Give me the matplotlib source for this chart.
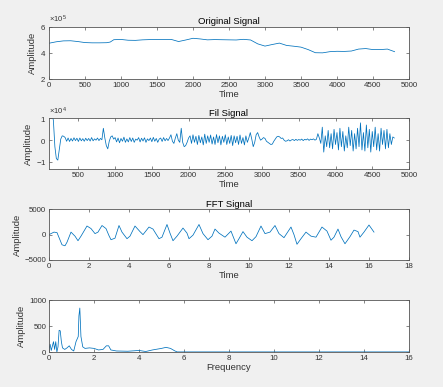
import numpy as np
import matplotlib
matplotlib.use('Agg')
import matplotlib.pyplot as plt

# original signal (time in samples, amplitude)
orig_t = [0, 100, 200, 300, 400, 500, 600, 700, 800, 850, 900, 1000, 1100, 1200, 1300,
          1400, 1500, 1600, 1700, 1800, 1900, 2000, 2100, 2200, 2300, 2400, 2500, 2600,
          2700, 2800, 2900, 3000, 3100, 3200, 3300, 3400, 3500, 3600, 3700, 3800, 3900,
          4000, 4100, 4200, 4300, 4400, 4500, 4600, 4700, 4800]
orig_v = [4.75, 4.86, 4.93, 4.94, 4.88, 4.80, 4.78, 4.78, 4.79, 4.84, 5.02, 5.04, 4.98,
          4.97, 5.01, 5.03, 5.04, 5.04, 5.04, 4.88, 5.00, 5.13, 5.08, 5.01, 5.03, 5.02,
          5.01, 5.00, 5.05, 5.00, 4.70, 4.53, 4.65, 4.76, 4.58, 4.52, 4.45, 4.26, 4.02,
          4.01, 4.10, 4.13, 4.12, 4.15, 4.30, 4.34, 4.26, 4.26, 4.30, 4.10]

# filtered signal, one value every 20 samples from t=140 (x 1e4)
fil_start = 140
fil_v = [1.3, 0.9, -0.3, -0.85, -0.92, -0.45, 0.05, 0.2, 0.18,
         0.12, -0.05, 0.1, -0.06, 0.08, -0.04, 0.11, -0.02, 0.09, -0.06, 0.1, -0.03, 0.07,
         -0.05, 0.09, -0.02, 0.08, -0.04, 0.12, -0.03, 0.06, 0.0, 0.1, -0.02, 0.08, 0.02,
         0.55, 0.1, -0.25, -0.4, -0.05, 0.15, 0.2, 0.05,
         0.12, -0.08, 0.1, -0.12, 0.08, -0.05, 0.14, -0.1, 0.06, -0.08, 0.12, -0.06, 0.1,
         -0.1, 0.05, 0.0, 0.12, -0.08, 0.09, -0.04, 0.11, -0.1, 0.06, -0.02, 0.1, -0.07,
         0.13, -0.05, 0.08, -0.1, 0.05, 0.1, -0.06, 0.12, -0.03, 0.08, -0.02, 0.1,
         0.25, -0.05, -0.15, 0.1, 0.3, 0.0, -0.1, 0.55, -0.1, -0.3, -0.25, -0.1, 0.1,
         0.2, -0.15, 0.25, -0.1, 0.18, -0.2, 0.22, -0.12, 0.15, -0.22, 0.28, -0.15, 0.2,
         -0.1, 0.24, -0.18, 0.15, -0.2, 0.26, -0.12, 0.2, -0.22, 0.18, -0.1, 0.25, -0.2,
         0.15, -0.15, 0.22, -0.25, 0.2, -0.12, 0.18, -0.2, 0.24, -0.15, 0.12, -0.22, 0.2,
         -0.1,
         0.1, 0.35, 0.05, -0.3, -0.1, 0.25, 0.35, 0.15, 0.0, 0.05, 0.12, 0.08, -0.05,
         -0.1, -0.15, -0.2, -0.18, -0.05, 0.05, 0.15, 0.18, 0.15, 0.08, 0.1, 0.0, -0.05,
         -0.03, 0.02, -0.04, 0.01, 0.03, -0.02, 0.04, -0.01, 0.03, 0.0, 0.05, -0.02, 0.04,
         0.01, 0.06, -0.01, 0.05, 0.02, 0.06, 0.0, 0.04,
         0.3, 0.1, -0.15, 0.6, -0.55, 0.2, -0.3,
         0.45, -0.35, 0.3, -0.4, 0.5, -0.2, 0.35, -0.45, 0.55, -0.3,
         0.4, -0.5, 0.2, -0.35, 0.6, -0.25, 0.45, -0.5, 0.3, -0.4,
         0.55, -0.3, 0.8, -0.45, 0.35, -0.5, 0.7, -0.35, 0.5, -0.55,
         0.4, -0.3, 0.6, -0.45, 0.3, -0.5, 0.55, -0.2, 0.45, -0.4,
         0.5, -0.35, 0.3, -0.2, 0.15, 0.1]

# "FFT signal" vs time
fft_t = [0, 0.25, 0.4, 0.65, 0.8, 0.9, 1.1, 1.3, 1.45, 1.6, 1.9, 2.1, 2.3, 2.45, 2.65,
         2.85, 3.0, 3.1, 3.3, 3.5, 3.65, 3.9, 4.05, 4.3, 4.55, 4.7, 5.0, 5.2, 5.5, 5.65,
         5.9, 6.05, 6.2, 6.4, 6.7, 6.9, 7.0, 7.2, 7.5, 7.7, 7.95, 8.15, 8.3, 8.5, 8.8,
         9.1, 9.35, 9.5, 9.7, 9.9, 10.15, 10.35, 10.6, 10.8, 11.05, 11.3, 11.5, 11.75,
         12.1, 12.25, 12.4, 12.6, 12.85, 13.1, 13.35, 13.65, 13.9, 14.1, 14.25, 14.45,
         14.6, 14.8, 15.05, 15.25, 15.45, 15.55, 15.75, 16.0, 16.25]
fft_v = [0, 500, 400, -2000, -2200, -1500, 500, -300, -1200, -300, 1700, 1200, 200, 500,
         1800, 1200, -200, -1000, -700, 1800, 500, -800, -300, 1700, 600, 0, 1500, 1100,
         -800, -500, 2000, 300, -1200, -300, 1300, 300, -800, -100, 2000, 200, -1000,
         -300, 1100, 300, -500, 700, -1800, -800, 600, -500, -1200, -400, 1700, 200, 500,
         1800, 200, -600, 1500, 0, -1900, -800, 500, -300, -500, 1500, 700, -1100, -500,
         1100, -400, -1800, -400, 900, 600, -500, 500, 1900, 500]

# spectrum
freq = [0, 0.05, 0.1, 0.2, 0.25, 0.3, 0.35, 0.4, 0.45, 0.5, 0.55, 0.6, 0.7, 0.8, 0.9,
        1.0, 1.1, 1.2, 1.3, 1.33, 1.37, 1.42, 1.5, 1.6, 1.8, 2.0, 2.2, 2.4, 2.55, 2.65,
        2.75, 3.0, 3.5, 4.0, 4.3, 4.6, 5.0, 5.2, 5.4, 5.6, 5.7, 16]
spec = [50, 150, 30, 200, 50, 200, 0, 100, 420, 410, 200, 80, 50, 80, 120, 50, 20, 200,
        300, 700, 850, 300, 100, 70, 80, 70, 40, 50, 120, 120, 40, 20, 15, 30, 10, 40, 70,
        90, 70, 20, 2, 2]

plt.rcParams['font.family'] = ['Liberation Sans', 'DejaVu Sans']
plt.rcParams['mathtext.fontset'] = 'custom'
plt.rcParams['mathtext.rm'] = 'Liberation Sans'
grey = '#333333'
blue = '#0072BD'

fig = plt.figure(figsize=(4.43, 3.87), dpi=100, facecolor='#f0f0f0')
L, W = 0.1106, 0.8126
ax1 = fig.add_axes([L, 0.7959, W, 0.1344])
ax2 = fig.add_axes([L, 0.5633, W, 0.1305])
ax3 = fig.add_axes([L, 0.3282, W, 0.1310])
ax4 = fig.add_axes([L, 0.0904, W, 0.1336])

ax1.plot(orig_t, np.array(orig_v) * 1e5, color=blue, lw=0.55)
ax1.set_xlim(0, 5000)
ax1.set_ylim(2e5, 6e5)
ax1.set_xticks(range(0, 5001, 500))
ax1.set_yticks([2e5, 4e5, 6e5])
ax1.set_title('Original Signal')
ax1.set_xlabel('Time')

fil_t = fil_start + 20 * np.arange(len(fil_v))
ax2.plot(fil_t, np.array(fil_v) * 1e4, color=blue, lw=0.55)
ax2.set_xlim(100, 5000)
ax2.set_ylim(-1.33e4, 1e4)
ax2.set_xticks(range(500, 5001, 500))
ax2.set_yticks([-1e4, 0, 1e4])
ax2.set_title('Fil Signal')
ax2.set_xlabel('Time')

ax3.plot(fft_t, fft_v, color=blue, lw=0.55)
ax3.set_xlim(0, 18)
ax3.set_ylim(-5000, 5000)
ax3.set_xticks(range(0, 19, 2))
ax3.set_yticks([-5000, 0, 5000])
ax3.set_title('FFT Signal')
ax3.set_xlabel('Time')

ax4.plot(freq, spec, color=blue, lw=0.55)
ax4.set_xlim(0, 16)
ax4.set_ylim(0, 1000)
ax4.set_xticks(range(0, 17, 2))
ax4.set_yticks([0, 500, 1000])
ax4.set_xlabel('Frequency')

for ax in (ax1, ax2):
    ax.ticklabel_format(axis='y', style='sci', scilimits=(0, 0), useMathText=True)
    ax.yaxis.get_offset_text().set_fontsize(5.5)
    ax.yaxis.get_offset_text().set_color('#555555')

for ax in (ax1, ax2, ax3, ax4):
    ax.set_ylabel('Amplitude', fontsize=6.8, color=grey, labelpad=2)
    ax.xaxis.label.set_fontsize(6.8)
    ax.xaxis.label.set_color(grey)
    ax.xaxis.labelpad = 1
    ax.tick_params(direction='in', length=2.5, width=0.5, labelsize=5.7,
                   colors='#555555', labelcolor=grey, top=True, right=True, pad=2)
    for s in ax.spines.values():
        s.set_color('#555555')
        s.set_linewidth(0.6)
for ax in (ax1, ax2, ax3):
    ax.set_title(ax.get_title(), fontsize=6.8, pad=2, color='black')

fig.savefig('out.png', dpi=100, facecolor=fig.get_facecolor())
